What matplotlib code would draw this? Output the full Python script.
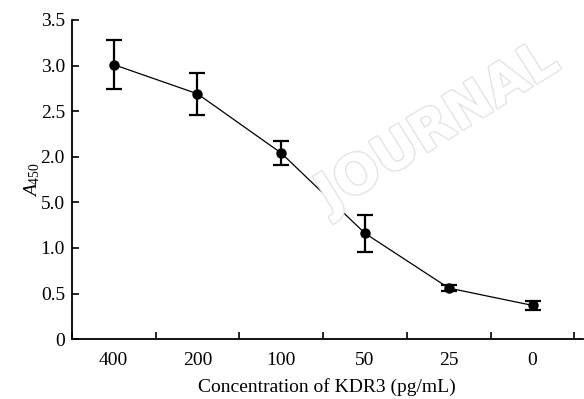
import matplotlib
matplotlib.use('Agg')
from matplotlib import pyplot as plt
from matplotlib import patheffects as pe

# data
concs = ['400', '200', '100', '50', '25', '0']
a450 = [3.01, 2.69, 2.04, 1.16, 0.56, 0.37]
err = [0.27, 0.23, 0.13, 0.20, 0.03, 0.05]
ytick_vals = [0, 0.5, 1.0, 1.5, 2.0, 2.5, 3.0, 3.5]
ytick_labels = ['0', '0.5', '1.0', '5.0', '2.0', '2.5', '3.0', '3.5']

plt.rcParams['font.family'] = 'Liberation Serif'
plt.rcParams['mathtext.fontset'] = 'custom'
plt.rcParams['mathtext.rm'] = 'Liberation Serif'
plt.rcParams['mathtext.it'] = 'Liberation Serif:italic'

fig = plt.figure(figsize=(5.84, 3.99), dpi=100)
ax = fig.add_axes([0.123, 0.150, 0.875, 0.80])

x = list(range(len(concs)))
ax.plot(x, a450, color='black', lw=0.9, zorder=3)
ax.errorbar(x, a450, yerr=err, fmt='o', color='black', ms=6.5,
            elinewidth=1.6, capsize=6, capthick=1.6, zorder=4)

# watermark
fig.text(0.75, 0.68, 'JOURNAL', rotation=32, ha='center', va='center',
         fontsize=39, fontweight='bold', family='DejaVu Sans', color='white',
         zorder=0,
         path_effects=[pe.withStroke(linewidth=2.0, foreground='#e4e4e4')])

ax.set_xlim(-0.5, 5.6)
ax.set_ylim(0, 3.5)
ax.set_xticks(x)
ax.set_xticklabels(concs)
ax.set_xticks([i + 0.5 for i in range(-1, 6)], minor=True)
ax.tick_params(axis='x', which='major', length=0, labelsize=14, pad=9)
ax.tick_params(axis='x', which='minor', direction='in', length=5, width=1.2)
ax.set_yticks(ytick_vals)
ax.set_yticklabels(ytick_labels)
ax.tick_params(axis='y', direction='in', length=5, width=1.2, labelsize=14, pad=5)

for s in ['top', 'right']:
    ax.spines[s].set_visible(False)
for s in ['left', 'bottom']:
    ax.spines[s].set_linewidth(1.3)

ax.set_xlabel('Concentration of KDR3 (pg/mL)', fontsize=14, labelpad=7)
ax.set_ylabel('$A_{450}$', fontsize=14, labelpad=-1)

fig.savefig('out.png', dpi=100)
